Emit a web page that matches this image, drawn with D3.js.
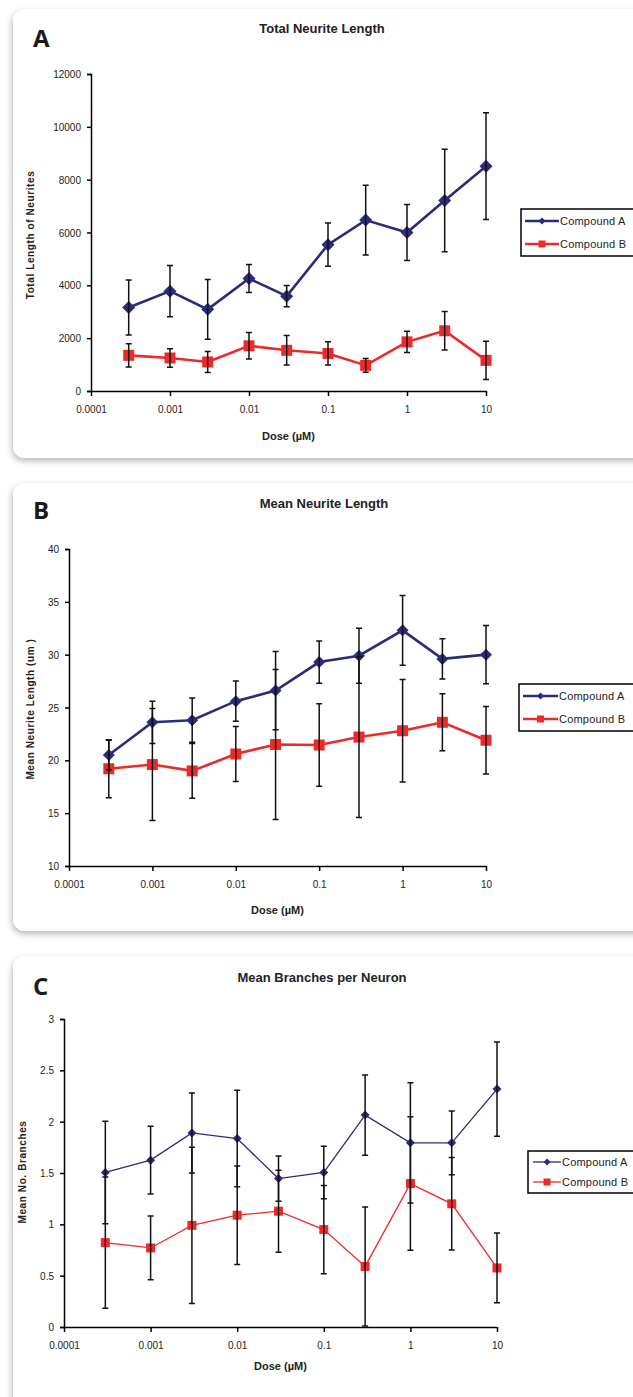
<!DOCTYPE html>
<html lang="en">
<head>
  <meta charset="UTF-8" />
  <title>Neurite outgrowth dose response</title>
  <style>
    html, body { margin: 0; padding: 0; background: #fff; }
    svg { display: block; font-family: "Liberation Sans", Arial, sans-serif; }
    .axis path, .axis line { stroke: #000; stroke-width: 1.5px; }
    .axis text { font-size: 10px; fill: #222; }
    .title { font-size: 13px; font-weight: bold; fill: #222; }
    .letter { font-family: "Open Sans", sans-serif; font-size: 24px; font-weight: bold; fill: #1a1a1a; }
    .ylab { font-size: 10px; font-weight: bold; fill: #222; letter-spacing: 0.6px; }
    .xlab { font-size: 11px; font-weight: bold; fill: #222; }
    .legend text { font-size: 11px; fill: #222; letter-spacing: 0.2px; }
    .err { stroke: #111; stroke-width: 1.5px; fill: none; }
  </style>
</head>
<body>
  <svg id="chart" width="633" height="1397"></svg>

  <script src="https://d3js.org/d3.v7.min.js"></script>
  <script>
    // shared x values (dose, µM)
    const doses = [0.0003, 0.001, 0.003, 0.01, 0.03, 0.1, 0.3, 1, 3, 10];
    const doseTicks = [0.0001, 0.001, 0.01, 0.1, 1, 10];
    const doseTickLabels = ["0.0001", "0.001", "0.01", "0.1", "1", "10"];
    const seriesNames = ["Compound A", "Compound B"];

    // A: total neurite length
    const totalA = [3160, 3780, 3090, 4260, 3590, 5540, 6470, 6000, 7210, 8510];
    const totalAErr = [1040, 970, 1130, 530, 400, 820, 1320, 1060, 1940, 2020];
    const totalB = [1350, 1250, 1100, 1710, 1540, 1420, 970, 1860, 2280, 1160];
    const totalBErr = [440, 350, 400, 500, 560, 440, 260, 400, 730, 720];
    const totalTicks = [0, 2000, 4000, 6000, 8000, 10000, 12000];

    // B: mean neurite length
    const meanA = [20.5, 23.6, 23.8, 25.6, 26.6, 29.3, 29.9, 32.3, 29.6, 30.0];
    const meanAErr = [1.4, 2.0, 2.1, 1.9, 3.7, 2.0, 2.6, 3.3, 1.9, 2.75];
    const meanB = [19.2, 19.6, 19.0, 20.6, 21.5, 21.45, 22.2, 22.8, 23.6, 21.9];
    const meanBErr = [2.75, 5.3, 2.6, 2.6, 7.1, 3.9, 7.6, 4.85, 2.7, 3.2];
    const meanTicks = [10, 15, 20, 25, 30, 35, 40];

    // C: mean branches per neuron
    const branchA = [1.505, 1.625, 1.89, 1.836, 1.446, 1.505, 2.064, 1.794, 1.794, 2.317];
    const branchAErr = [0.5, 0.33, 0.39, 0.47, 0.22, 0.255, 0.39, 0.585, 0.31, 0.46];
    const branchB = [0.822, 0.77, 0.99, 1.089, 1.128, 0.949, 0.59, 1.397, 1.2, 0.575];
    const branchBErr = [0.64, 0.31, 0.76, 0.48, 0.4, 0.43, 0.58, 0.65, 0.45, 0.34];
    const branchTicks = [0, 0.5, 1, 1.5, 2, 2.5, 3];

    const colA = "#2c2b7a";
    const colB = "#ec2a2a";

    const svg = d3.select("#chart");

    const defs = svg.append("defs");
    const shadow = defs.append("filter").attr("id", "shadow")
      .attr("x", "-10%").attr("y", "-10%").attr("width", "120%").attr("height", "120%");
    shadow.append("feDropShadow")
      .attr("dx", -1).attr("dy", 3).attr("stdDeviation", 3)
      .attr("flood-color", "#000").attr("flood-opacity", 0.28);

    // legend: [boxX, boxY, boxH, row1Y, row2Y, lineStart, lineEnd, textX]
    const panels = [
      {
        letter: "A", title: "Total Neurite Length", ylab: "Total Length of Neurites",
        card: [13, 9, 449], x: [91, 486], y: [391, 74], domain: [0, 12000], ticks: totalTicks,
        a: totalA, aErr: totalAErr, b: totalB, bErr: totalBErr,
        lw: 2.6, dia: 6.5, sq: 5.5,
        titleX: 322, titleY: 33, letterY: 47, ylabX: 34, ylabY: 235, tickY: 413, doseY: 440,
        legend: [521, 209, 47, 221, 244, 525, 559, 560]
      },
      {
        letter: "B", title: "Mean Neurite Length", ylab: "Mean Neurite Length (um )",
        card: [13, 483, 448], x: [69, 486], y: [866, 549], domain: [10, 40], ticks: meanTicks,
        a: meanA, aErr: meanAErr, b: meanB, bErr: meanBErr,
        lw: 2.6, dia: 6, sq: 5.5,
        titleX: 324, titleY: 508, letterY: 519, ylabX: 34, ylabY: 709, tickY: 888, doseY: 914,
        legend: [519, 684, 47, 696, 719, 523, 558, 559]
      },
      {
        letter: "C", title: "Mean Branches per Neuron", ylab: "Mean No. Branches",
        card: [13, 956, 460], x: [64, 497], y: [1327, 1019], domain: [0, 3], ticks: branchTicks,
        a: branchA, aErr: branchAErr, b: branchB, bErr: branchBErr,
        lw: 1.3, dia: 4.5, sq: 4.5,
        titleX: 322, titleY: 982, letterY: 995, ylabX: 26, ylabY: 1172, tickY: 1349, doseY: 1370,
        legend: [528, 1151, 42, 1162, 1182, 533, 561, 562]
      }
    ];

    const diamond = r => `M0,${-r}L${r},0L0,${r}L${-r},0Z`;
    const square = r => `M${-r},${-r}H${r}V${r}H${-r}Z`;

    panels.forEach(p => {
      const g = svg.append("g");

      g.append("rect")
        .attr("x", p.card[0]).attr("y", p.card[1])
        .attr("width", 700).attr("height", p.card[2])
        .attr("rx", 12).attr("ry", 12)
        .attr("fill", "#fff")
        .attr("filter", "url(#shadow)");

      const x = d3.scaleLog().domain([0.0001, 10]).range(p.x);
      const y = d3.scaleLinear().domain(p.domain).range(p.y);

      // axes
      g.append("g").attr("class", "axis")
        .attr("transform", `translate(${p.x[0]},0)`)
        .call(d3.axisLeft(y).tickValues(p.ticks).tickSize(4).tickPadding(6).tickFormat(d3.format("")))
        .call(a => a.selectAll("text").attr("dy", "0.35em"));

      g.append("g").attr("class", "axis")
        .attr("transform", `translate(0,${p.y[0]})`)
        .call(d3.axisBottom(x).tickValues(doseTicks).tickSize(5).tickSizeOuter(0)
          .tickFormat((d, i) => doseTickLabels[i]))
        .call(a => a.selectAll("text").attr("y", null).attr("dy", null)
          .attr("transform", `translate(0,${p.tickY - p.y[0]})`));

      // titles
      g.append("text").attr("class", "title")
        .attr("x", p.titleX).attr("y", p.titleY)
        .attr("text-anchor", "middle").text(p.title);
      g.append("text").attr("class", "letter")
        .attr("x", 33).attr("y", p.letterY).text(p.letter);
      g.append("text").attr("class", "ylab")
        .attr("transform", `translate(${p.ylabX},${p.ylabY}) rotate(-90)`)
        .attr("text-anchor", "middle").text(p.ylab);
      g.append("text").attr("class", "xlab")
        .attr("x", (p.x[0] + p.x[1]) / 2).attr("y", p.doseY)
        .attr("text-anchor", "middle").text("Dose (µM)");

      const series = [
        { vals: p.a, err: p.aErr, color: colA, shape: diamond, size: p.dia },
        { vals: p.b, err: p.bErr, color: colB, shape: square, size: p.sq }
      ];

      const line = d3.line().x((d, i) => x(doses[i])).y(d => y(d));

      series.forEach(s => {
        g.append("path")
          .attr("d", line(s.vals))
          .attr("fill", "none")
          .attr("stroke", s.color)
          .attr("stroke-width", p.lw);
      });

      series.forEach(s => {
        g.append("g").selectAll("path")
          .data(s.vals)
          .join("path")
          .attr("transform", (d, i) => `translate(${x(doses[i])},${y(d)})`)
          .attr("d", s.shape(s.size))
          .attr("fill", s.color);
      });

      series.forEach(s => {
        g.append("g").selectAll("path")
          .data(s.vals)
          .join("path")
          .attr("class", "err")
          .attr("d", (d, i) => {
            const cx = x(doses[i]);
            const lo = y(Math.max(p.domain[0], d - s.err[i]));
            const hi = y(d + s.err[i]);
            return `M${cx},${hi}V${lo}M${cx - 3},${hi}H${cx + 3}M${cx - 3},${lo}H${cx + 3}`;
          });
      });

      // legend
      const [lx, ly, lh, r1, r2, l0, l1, tx] = p.legend;
      const lg = g.append("g").attr("class", "legend");
      lg.append("rect")
        .attr("x", lx).attr("y", ly).attr("width", 130).attr("height", lh)
        .attr("fill", "#fff").attr("stroke", "#000").attr("stroke-width", 1.5);
      series.forEach((s, k) => {
        const ry = k === 0 ? r1 : r2;
        lg.append("line")
          .attr("x1", l0).attr("x2", l1).attr("y1", ry).attr("y2", ry)
          .attr("stroke", s.color).attr("stroke-width", p.lw);
        lg.append("path")
          .attr("transform", `translate(${(l0 + l1) / 2},${ry})`)
          .attr("d", s.shape(3.5))
          .attr("fill", s.color);
        lg.append("text")
          .attr("x", tx).attr("y", ry).attr("dy", "0.35em")
          .text(seriesNames[k]);
      });
    });
  </script>
</body>
</html>
